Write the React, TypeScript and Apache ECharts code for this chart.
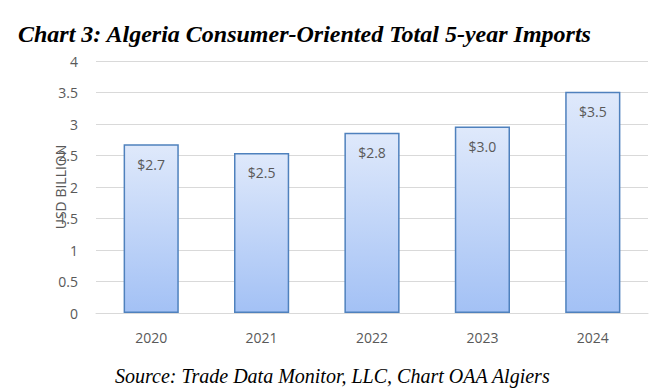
import React, { useEffect, useRef } from "react";
import * as echarts from "echarts";

const categories = ["2020", "2021", "2022", "2023", "2024"];
const values = [2.68, 2.54, 2.86, 2.96, 3.51];
const valueLabels = ["$2.7", "$2.5", "$2.8", "$3.0", "$3.5"];
const titleText = "Chart 3: Algeria Consumer-Oriented Total 5-year Imports";
const sourceText = "Source: Trade Data Monitor, LLC, Chart OAA Algiers";
const yAxisName = "USD BILLION";

export default function App() {
  const ref = useRef<HTMLDivElement>(null);
  useEffect(() => {
    if (!ref.current) return;
    const chart = echarts.init(ref.current, null, { renderer: "svg" });
    const gray = "#595959";
    chart.setOption({
      animation: false,
      backgroundColor: "#ffffff",
      title: [
        {
          text: titleText,
          left: 13,
          top: 17,
          textStyle: {
            fontFamily: "Liberation Serif",
            fontStyle: "italic",
            fontWeight: "bold",
            fontSize: 24,
            color: "#000000",
          },
        },
        {
          text: sourceText,
          left: 110,
          top: 361,
          textStyle: {
            fontFamily: "Liberation Serif",
            fontStyle: "italic",
            fontWeight: "normal",
            fontSize: 20,
            color: "#000000",
          },
        },
      ],
      grid: { left: 96, right: 22, top: 61, bottom: 78, containLabel: false },
      xAxis: {
        type: "category",
        data: categories,
        axisLine: { lineStyle: { color: "#d9d9d9", width: 1 } },
        axisTick: { show: false },
        axisLabel: { color: gray, fontSize: 14, fontFamily: "Open Sans", margin: 17 },
      },
      yAxis: {
        type: "value",
        min: 0,
        max: 4,
        interval: 0.5,
        name: yAxisName,
        nameLocation: "middle",
        nameGap: 29,
        nameMoveOverlap: false,
        nameTextStyle: { color: gray, fontSize: 14, fontFamily: "Open Sans" },
        axisLine: { show: false },
        axisTick: { show: false },
        splitLine: { lineStyle: { color: "#d9d9d9", width: 1 } },
        axisLabel: { color: gray, fontSize: 14, fontFamily: "Open Sans", margin: 18 },
      },
      series: [
        {
          type: "bar",
          data: values,
          barWidth: "50%",
          itemStyle: {
            color: new echarts.graphic.LinearGradient(0, 0, 0, 1, [
              { offset: 0, color: "#dfe9fb" },
              { offset: 1, color: "#a3c1f5" },
            ]),
            borderColor: "#4f81bd",
            borderWidth: 1.5,
          },
          label: {
            show: true,
            position: "insideTop",
            distance: 13,
            color: gray,
            fontSize: 14,
            fontFamily: "Open Sans",
            formatter: (p: any) => valueLabels[p.dataIndex],
          },
        },
      ],
    });
    return () => chart.dispose();
  }, []);
  return (
    <div
      ref={ref}
      style={{ position: "absolute", left: 0, top: 0, width: 670, height: 391 }}
    />
  );
}
